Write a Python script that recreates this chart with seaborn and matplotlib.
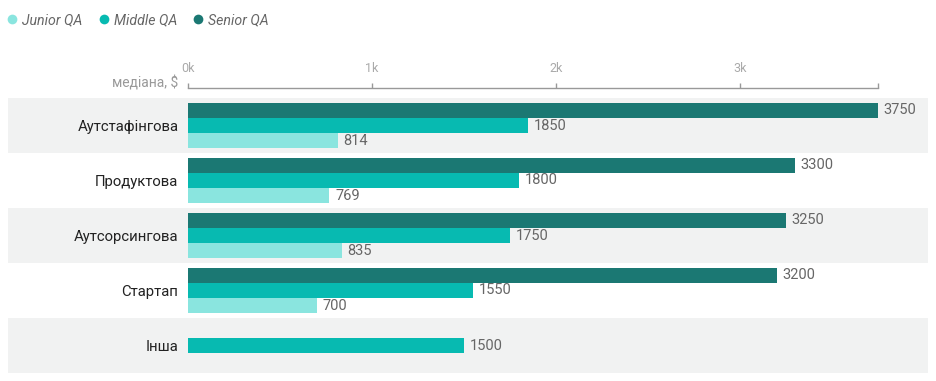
import matplotlib
matplotlib.use("Agg")
import matplotlib.pyplot as plt
from matplotlib.patches import Rectangle
from matplotlib.lines import Line2D
import matplotlib.transforms as mtransforms
import seaborn as sns
import pandas as pd
import numpy as np

categories = ["Аутстафінгова", "Продуктова", "Аутсорсингова", "Стартап", "Інша"]
series = ["Senior QA", "Middle QA", "Junior QA"]
senior = [3750, 3300, 3250, 3200, None]
middle = [1850, 1800, 1750, 1550, 1500]
junior = [814, 769, 835, 700, None]
tick_values = [0, 1000, 2000, 3000]
tick_labels = ["0k", "1k", "2k", "3k"]

colors = {"Junior QA": "#8ae5df", "Middle QA": "#07bab1", "Senior QA": "#1b7873"}

rows = []
for name, vals in zip(series, [senior, middle, junior]):
    for c, v in zip(categories, vals):
        if v is not None:
            rows.append({"category": c, "level": name, "value": v})
df = pd.DataFrame(rows)

sns.set_theme(style="white")
plt.rcParams["font.family"] = ["Roboto", "DejaVu Sans"]

W, H = 937, 381
fig = plt.figure(figsize=(W / 100, H / 100), dpi=100)
x0, x1 = 188, 878
y_top, y_bot = 98, 373
ax = fig.add_axes([x0 / W, 1 - y_bot / H, (x1 - x0) / W, (y_bot - y_top) / H])
ax.set_facecolor("none")

sns.barplot(data=df, y="category", x="value", hue="level", order=categories,
            hue_order=series, palette=colors, orient="h", width=0.82,
            dodge=True, ax=ax, legend=False, saturation=1, edgecolor="none",
            linewidth=0)

xmax = max(senior[:4])
ax.set_xlim(0, xmax)
ax.set_ylim(len(categories) - 0.5, -0.5)

# background bands
trans = mtransforms.blended_transform_factory(ax.transAxes, ax.transData)
left_ax = (8 - x0) / (x1 - x0)
right_ax = (928 - x0) / (x1 - x0)
for i in range(len(categories)):
    if i % 2 == 0:
        r = Rectangle((left_ax, i - 0.5), right_ax - left_ax, 1.0, transform=trans,
                      facecolor="#f1f2f2", edgecolor="none", clip_on=False, zorder=0)
        ax.add_patch(r)

for cont in ax.containers:
    ax.bar_label(cont, labels=[f"{int(v)}" if not np.isnan(v) and v > 0 else "" for v in cont.datavalues],
                 padding=4, color="#666666", fontsize=10.5)

# top axis
for s in ["left", "right", "bottom"]:
    ax.spines[s].set_visible(False)
ax.spines["top"].set_visible(True)
ax.spines["top"].set_color("#999999")
ax.spines["top"].set_linewidth(1.0)
ax.spines["top"].set_position(("outward", 7.2))
ax.xaxis.tick_top()
ax.set_xticks(tick_values + [xmax])
ax.set_xticklabels(tick_labels + [""])
ax.tick_params(axis="x", direction="out", length=3.6, width=1, color="#999999",
               labelcolor="#aaaaaa", labelsize=9, pad=6, top=True, bottom=False)
ax.set_xlabel("")
ax.set_ylabel("")
ax.tick_params(axis="y", length=0, pad=7, labelsize=10.75, labelcolor="#222222")
ax.grid(False)

fig.text(178 / W, 1 - 83 / H, "медіана, $", ha="right", va="center",
         color="#999999", fontsize=10)

handles = [Line2D([0], [0], marker="o", linestyle="none", markersize=7,
                  markerfacecolor=colors[n], markeredgecolor="none", label=n)
           for n in ["Junior QA", "Middle QA", "Senior QA"]]
leg = fig.legend(handles=handles, loc="center left", bbox_to_anchor=(5 / W, 1 - 20 / H),
                 ncol=3, frameon=False, handletextpad=0.2, columnspacing=1.0,
                 borderaxespad=0, borderpad=0, handlelength=1.0, fontsize=10.2)
for t in leg.get_texts():
    t.set_color("#666666")
    t.set_fontstyle("italic")

fig.savefig("out.png", dpi=100)
